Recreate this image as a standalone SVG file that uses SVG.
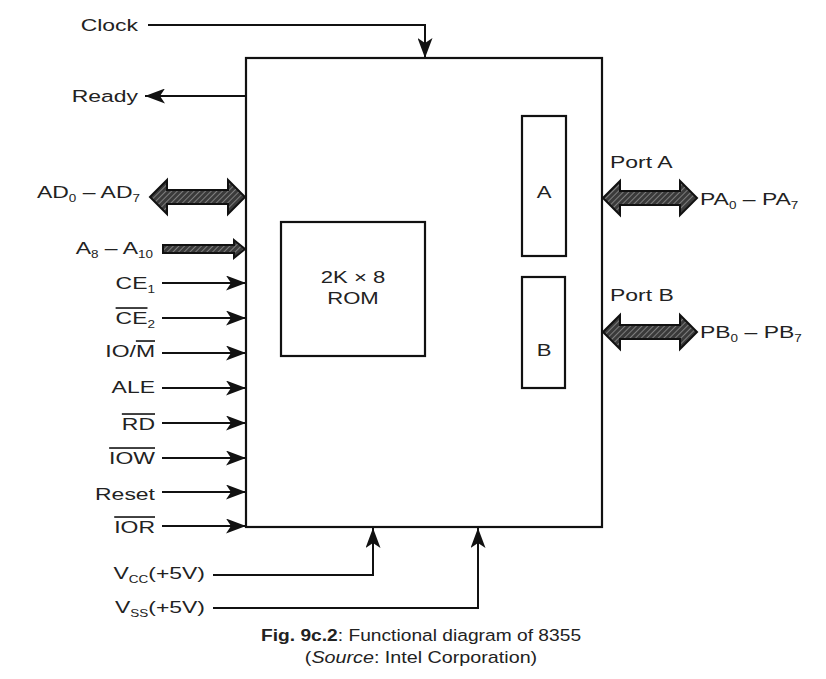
<svg xmlns="http://www.w3.org/2000/svg" width="826" height="679" viewBox="0 0 826 679">
<style>
text{font-family:"Liberation Sans",Arial,sans-serif;font-size:17px;fill:#222}
.box{fill:#fff;stroke:#111;stroke-width:2.2}
.ln{fill:none;stroke:#111;stroke-width:2}
.bus{fill:url(#hatch);stroke:#111;stroke-width:2}
.sub{font-size:10px}
.ov{text-decoration:overline}
</style>
<defs>
<pattern id="hatch" width="4" height="4" patternUnits="userSpaceOnUse" patternTransform="rotate(45)">
<rect width="4" height="4" fill="#3a3a3a"/>
<line x1="0" y1="0" x2="0" y2="4" stroke="#9a9a9a" stroke-width="1.4"/>
</pattern>
<marker id="arL" viewBox="0 0 10 10" refX="10" refY="5" markerWidth="20" markerHeight="15" markerUnits="userSpaceOnUse" orient="auto" preserveAspectRatio="none">
<path d="M0,0 L10,5 L0,10 L2.5,5 Z" fill="#111"/>
</marker>
</defs>

<g id="chip">
<rect class="box" x="246" y="58" width="356" height="469"/>
</g>
<g id="rom">
<rect class="box" x="281" y="222" width="144" height="134"/>
<text transform="translate(353,283) scale(1.3,1)" text-anchor="middle">2K × 8</text>
<text transform="translate(353,304) scale(1.3,1)" text-anchor="middle">ROM</text>
</g>
<g id="portA">
<rect class="box" x="522" y="116" width="44" height="140"/>
<text transform="translate(544,198) scale(1.3,1)" text-anchor="middle">A</text>
</g>
<g id="portB">
<rect class="box" x="522" y="277" width="43" height="111"/>
<text transform="translate(544,356) scale(1.3,1)" text-anchor="middle">B</text>
</g>

<g id="connectors">
<polyline class="ln" points="148,25 425,25 425,58" marker-end="url(#arL)"/>
<line class="ln" x1="246" y1="96" x2="145" y2="96" marker-end="url(#arL)"/>
<path class="bus" d="M150,197 L167,180 L167,190 L228,190 L228,180 L245,197 L228,214 L228,204 L167,204 L167,214 Z"/>
<path class="bus" d="M163,245 L234,245 L234,240 L245,249 L234,258 L234,253 L163,253 Z"/>
<line class="ln" x1="162" y1="283" x2="246" y2="283" marker-end="url(#arL)"/>
<line class="ln" x1="162" y1="318" x2="246" y2="318" marker-end="url(#arL)"/>
<line class="ln" x1="162" y1="353" x2="246" y2="353" marker-end="url(#arL)"/>
<line class="ln" x1="162" y1="388" x2="246" y2="388" marker-end="url(#arL)"/>
<line class="ln" x1="162" y1="423" x2="246" y2="423" marker-end="url(#arL)"/>
<line class="ln" x1="162" y1="458" x2="246" y2="458" marker-end="url(#arL)"/>
<line class="ln" x1="162" y1="492" x2="246" y2="492" marker-end="url(#arL)"/>
<line class="ln" x1="162" y1="526" x2="246" y2="526" marker-end="url(#arL)"/>
<path class="bus" d="M603,198 L620,181 L620,191 L680,191 L680,181 L697,198 L680,215 L680,205 L620,205 L620,215 Z"/>
<path class="bus" d="M603,332 L620,315 L620,325 L680,325 L680,315 L697,332 L680,349 L680,339 L620,339 L620,349 Z"/>
<polyline class="ln" points="213,575 373,575 373,528" marker-end="url(#arL)"/>
<polyline class="ln" points="213,608 478,608 478,528" marker-end="url(#arL)"/>
</g>

<g id="labels">
<text transform="translate(138,31) scale(1.35,1)" text-anchor="end">Clock</text>
<text transform="translate(138,102) scale(1.35,1)" text-anchor="end">Ready</text>
<text transform="translate(140,198) scale(1.35,1)" text-anchor="end">AD<tspan class="sub" dy="4">0</tspan><tspan dy="-4"> – AD</tspan><tspan class="sub" dy="4">7</tspan></text>
<text transform="translate(153,254) scale(1.35,1)" text-anchor="end">A<tspan class="sub" dy="4">8</tspan><tspan dy="-4"> – A</tspan><tspan class="sub" dy="4">10</tspan></text>
<text transform="translate(155,289) scale(1.35,1)" text-anchor="end">CE<tspan class="sub" dy="4">1</tspan></text>
<text transform="translate(155,324) scale(1.35,1)" text-anchor="end"><tspan class="ov">CE</tspan><tspan class="sub" dy="4">2</tspan></text>
<text transform="translate(155,357) scale(1.35,1)" text-anchor="end">IO/<tspan class="ov">M</tspan></text>
<text transform="translate(155,393) scale(1.35,1)" text-anchor="end">ALE</text>
<text transform="translate(155,430) scale(1.35,1)" text-anchor="end"><tspan class="ov">RD</tspan></text>
<text transform="translate(155,464) scale(1.35,1)" text-anchor="end"><tspan class="ov">IOW</tspan></text>
<text transform="translate(155,500) scale(1.35,1)" text-anchor="end">Reset</text>
<text transform="translate(155,533) scale(1.35,1)" text-anchor="end"><tspan class="ov">IOR</tspan></text>
<text transform="translate(205,579) scale(1.35,1)" text-anchor="end">V<tspan class="sub" dy="4">CC</tspan><tspan dy="-4">(+5V)</tspan></text>
<text transform="translate(205,613) scale(1.35,1)" text-anchor="end">V<tspan class="sub" dy="4">SS</tspan><tspan dy="-4">(+5V)</tspan></text>
<text transform="translate(610,168) scale(1.35,1)">Port A</text>
<text transform="translate(610,301) scale(1.35,1)">Port B</text>
<text transform="translate(700,205) scale(1.35,1)">PA<tspan class="sub" dy="4">0</tspan><tspan dy="-4"> – PA</tspan><tspan class="sub" dy="4">7</tspan></text>
<text transform="translate(700,338) scale(1.35,1)">PB<tspan class="sub" dy="4">0</tspan><tspan dy="-4"> – PB</tspan><tspan class="sub" dy="4">7</tspan></text>
</g>

<g id="caption">
<text transform="translate(421,641) scale(1.13,1)" text-anchor="middle"><tspan font-weight="bold">Fig. 9c.2</tspan>: Functional diagram of 8355</text>
<text transform="translate(421,663) scale(1.16,1)" text-anchor="middle">(<tspan font-style="italic">Source</tspan>: Intel Corporation)</text>
</g>
</svg>
